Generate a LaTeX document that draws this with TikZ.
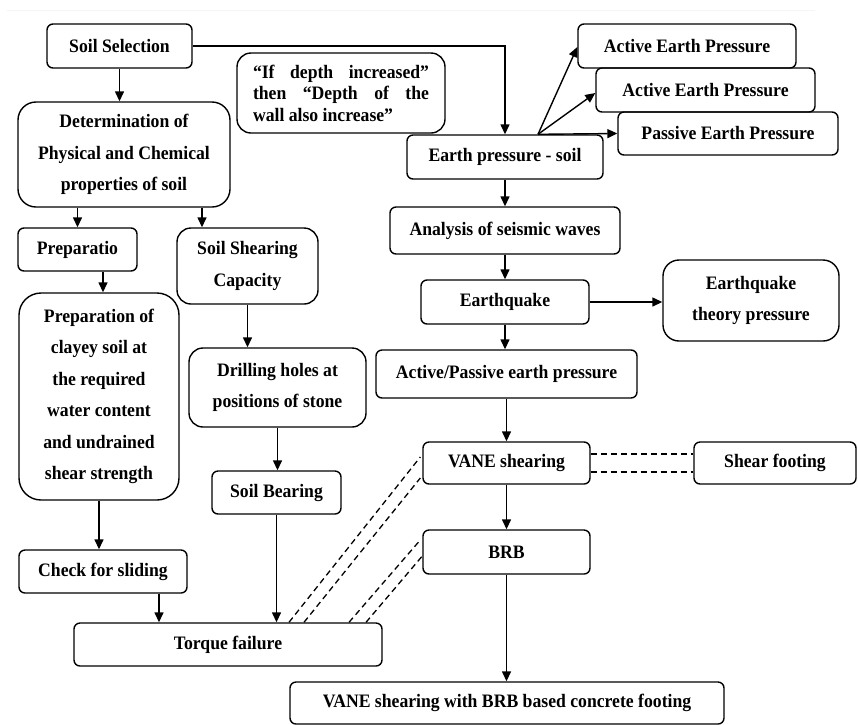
\documentclass[tikz,border=0pt]{standalone}
\usepackage{fontspec}
\setmainfont{Liberation Serif}[FakeStretch=0.93]
\usetikzlibrary{arrows.meta}
\begin{document}
\begin{tikzpicture}[x=1pt,y=-1pt,
  box/.style={draw, line width=1.4pt, rounded corners=6pt, inner sep=0pt, align=center,
    font=\bfseries\fontsize{19}{31.5}\selectfont},
  arr/.style={line width=1.4pt, -{Triangle[length=10pt,width=9pt]}},
  dsh/.style={line width=1.3pt, dash pattern=on 6pt off 4pt}]
\useasboundingbox (0,0) rectangle (858,724);
\draw[gray!8, line width=1pt] (7,10) -- (815,10);

% left column
\node[box, minimum width=145pt, minimum height=44pt] (sel) at (119.5,46) {Soil Selection};
\node[box, rounded corners=18pt, minimum width=212pt, minimum height=105pt] (det) at (124,154.5)
  {Determination of\\Physical and Chemical\\properties of soil};
\node[box, minimum width=119pt, minimum height=43pt] (prep) at (77.5,249.5) {Preparatio};
\node[box, rounded corners=14pt, minimum width=141pt, minimum height=76pt] (ssc) at (247.5,266)
  {Soil Shearing\\Capacity};
\node[box, rounded corners=22pt, minimum width=160pt, minimum height=207pt] (clay) at (99,396.5)
  {Preparation of\\clayey soil at\\the required\\water content\\and undrained\\shear strength};
\node[box, rounded corners=14pt, minimum width=177pt, minimum height=79pt] (drill) at (277.5,387.5)
  {Drilling holes at\\positions of stone};
\node[box, minimum width=129pt, minimum height=43pt] (bear) at (276.5,492.5) {Soil Bearing};
\node[box, minimum width=168pt, minimum height=43pt] (slide) at (103,571.5) {Check for sliding};
\node[box, minimum width=308pt, minimum height=43pt] (torque) at (228,644.5) {Torque failure};

% note
\node[box, rounded corners=14pt, minimum width=208pt, minimum height=80pt, text width=176pt,
  align=justify, font=\bfseries\fontsize{19}{21.5}\selectfont] (ifd) at (341,93)
  {“If depth increased” \linebreak then “Depth of the \linebreak wall also increase”};

% right column
\node[box, minimum width=196pt, minimum height=44pt] (ep) at (505,157) {Earth pressure - soil};
\node[box, minimum width=218pt, minimum height=44pt] (ae1) at (687,46) {Active Earth Pressure};
\node[box, minimum width=219pt, minimum height=44pt] (ae2) at (705.5,90) {Active Earth Pressure};
\node[box, minimum width=220pt, minimum height=43pt] (pe) at (728,133.5) {Passive Earth Pressure};
\node[box, minimum width=230pt, minimum height=47pt] (an) at (505,230.5) {Analysis of seismic waves};
\node[box, minimum width=168pt, minimum height=44pt] (eq) at (505,302) {Earthquake};
\node[box, rounded corners=16pt, minimum width=176pt, minimum height=81pt] (eqt) at (751,300.5)
  {Earthquake\\theory pressure};
\node[box, minimum width=261pt, minimum height=48pt] (ap) at (506.5,374) {Active/Passive earth pressure};
\node[box, minimum width=167pt, minimum height=42pt] (vane) at (506.5,463) {VANE shearing};
\node[box, minimum width=162pt, minimum height=42pt] (sf) at (775,463) {Shear footing};
\node[box, minimum width=167pt, minimum height=44pt] (brb) at (506.5,552) {BRB};
\node[box, minimum width=434pt, minimum height=42pt] (fin) at (507,703)
  {VANE shearing with BRB based concrete footing};

% arrows left
\draw[arr] (sel.south) -- (sel.south |- det.north);
\draw[arr] (prep.north |- det.south) -- (prep.north);
\draw[arr] ([xshift=78pt]det.south) -- ([xshift=78pt]det.south |- ssc.north);
\draw[arr] ([xshift=4pt]clay.north |- prep.south) -- ([xshift=4pt]clay.north);
\draw[arr] (ssc.south) -- (ssc.south |- drill.north);
\draw[arr] (drill.south) -- (drill.south |- bear.north);
\draw[arr] (clay.south) -- (clay.south |- slide.north);
\draw[arr] ([xshift=56pt]slide.south) -- ([xshift=56pt]slide.south |- torque.north);
\draw[arr] (bear.south) -- (bear.south |- torque.north);

% arrows right
\draw[arr] (sel.east) -| (ep.north);
\coordinate (fan) at ([xshift=33pt]ep.north);
\draw[arr] (fan) -- ([yshift=-1pt]ae1.west);
\draw[arr] (fan) -- ([yshift=-3pt]ae2.west);
\draw[arr] (fan) -- (pe.west);
\draw[arr] (ep.south) -- (ep.south |- an.north);
\draw[arr] (an.south) -- (an.south |- eq.north);
\draw[arr] (eq.south) -- (eq.south |- ap.north);
\draw[arr] (eq.east) -- (eq.east -| eqt.west);
\draw[arr] (ap.south) -- (ap.south |- vane.north);
\draw[arr] (vane.south) -- (brb.north);
\draw[arr] (brb.south) -- (brb.south |- fin.north);

% dashed links
\draw[dsh] ([yshift=9pt]vane.east) -- ([yshift=9pt]vane.east -| sf.west);
\draw[dsh] ([yshift=-9pt]vane.east) -- ([yshift=-9pt]vane.east -| sf.west);
\draw[dsh] ([xshift=61pt]torque.north) -- ([xshift=-2pt,yshift=6pt]vane.west);
\draw[dsh] ([xshift=76pt]torque.north) -- ([xshift=-2pt,yshift=-15pt]vane.west);
\draw[dsh] ([xshift=121pt]torque.north) -- ([xshift=-2pt,yshift=12pt]brb.west);
\draw[dsh] ([xshift=138pt]torque.north) -- ([xshift=0pt,yshift=-4pt]brb.west);
\end{tikzpicture}
\end{document}
